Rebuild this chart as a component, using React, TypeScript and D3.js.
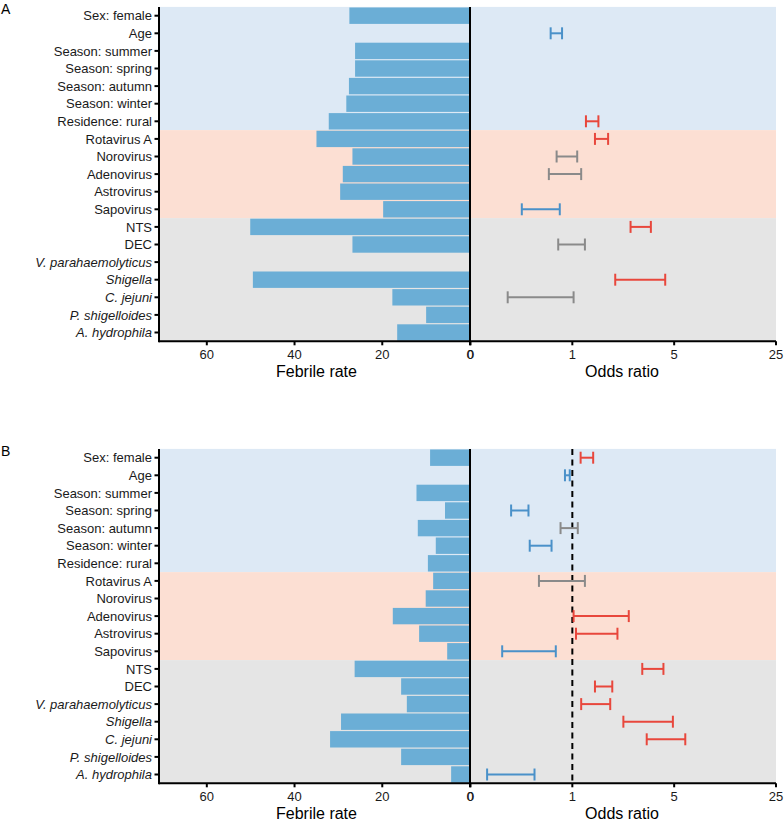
import * as d3 from 'd3'

const rowLabels = [
  'Sex: female', 'Age', 'Season: summer', 'Season: spring', 'Season: autumn',
  'Season: winter', 'Residence: rural', 'Rotavirus A', 'Norovirus', 'Adenovirus',
  'Astrovirus', 'Sapovirus', 'NTS', 'DEC', 'V. parahaemolyticus', 'Shigella',
  'C. jejuni', 'P. shigelloides', 'A. hydrophila',
]
const italicRows = ['V. parahaemolyticus', 'Shigella', 'C. jejuni', 'P. shigelloides', 'A. hydrophila']

// groups of rows for the background bands
const groups = [
  { from: 'Sex: female', to: 'Residence: rural', fill: '#dde9f5' },
  { from: 'Rotavirus A', to: 'Sapovirus', fill: '#fcdfd3' },
  { from: 'NTS', to: 'A. hydrophila', fill: '#e5e5e5' },
]

// panel A
const rateA = [27.5, 0, 26.2, 26.2, 27.6, 28.2, 32.2, 35.0, 26.8, 29.0, 29.6, 19.8, 50.1, 26.8, 0, 49.5, 17.7, 10.0, 16.6]
const orLowA = [null, 0.71, null, null, null, null, 1.24, 1.43, 0.78, 0.69, null, 0.45, 2.51, 0.80, null, 1.97, 0.36, null, null]
const orHighA = [null, 0.85, null, null, null, null, 1.51, 1.76, 1.08, 1.15, null, 0.82, 3.46, 1.22, null, 4.34, 1.02, null, null]
const effectA = [null, 'down', null, null, null, null, 'up', 'up', 'ns', 'ns', null, 'down', 'up', 'ns', null, 'up', 'ns', null, null]

// panel B
const rateB = [9.1, 0, 12.2, 5.7, 11.9, 7.8, 9.6, 8.4, 10.1, 17.6, 11.6, 5.2, 26.3, 15.7, 14.4, 29.4, 31.9, 15.7, 4.3]
const orLowB = [1.14, 0.89, null, 0.38, 0.83, 0.51, null, 0.59, null, 1.02, 1.06, 0.33, 3.02, 1.43, 1.15, 2.24, 3.24, null, 0.26]
const orHighB = [1.39, 0.96, null, 0.50, 1.09, 0.72, null, 1.22, null, 2.44, 2.04, 0.77, 4.22, 1.88, 1.82, 4.9, 5.96, null, 0.55]
const effectB = ['up', 'down', null, 'down', 'ns', 'down', null, 'ns', null, 'up', 'up', 'down', 'up', 'up', 'up', 'up', 'up', null, 'down']

const rateTicks = [60, 40, 20, 0]
const orTicks = [0.2, 1, 5, 25]
const orTickLabels = ['0', '1', '5', '25']

const effectColor: Record<string, string> = { up: '#e8473c', down: '#4a91c9', ns: '#8a8a8a' }
const font = '"Liberation Sans", Arial, Helvetica, sans-serif'

const xLeft = 159
const xMid = 470
const xRight = 776

function Panel({ letter, top, bottom, rates, lows, highs, effects, refLine }: any) {
  const y = d3.scaleBand().domain(rowLabels).range([top, bottom]).padding(0)
  const xRate = d3.scaleLinear().domain([70.9, 0]).range([xLeft, xMid])
  const xOr = d3.scaleLog().base(5).domain([0.2, 25]).range([xMid + 0.5, xRight])
  const bw = y.bandwidth()
  const capH = bw * 0.68

  return (
    <g>
      <text x={1} y={top + 7.5} fontSize={14} fontFamily={font}>{letter}</text>
      {groups.map(g => (
        <rect key={g.from} x={xLeft} width={xRight - xLeft}
          y={y(g.from)!} height={y(g.to)! + bw - y(g.from)!} fill={g.fill} />
      ))}
      {rowLabels.map((r, i) => rates[i] > 0 && (
        <rect key={r} x={xRate(rates[i])} width={xMid - xRate(rates[i])}
          y={y(r)! + 0.6} height={bw - 1.2} fill="#6baed6" />
      ))}
      {refLine && (
        <line x1={xOr(1)} x2={xOr(1)} y1={top} y2={bottom}
          stroke="#000" strokeWidth={2} strokeDasharray="6,4.5" />
      )}
      {rowLabels.map((r, i) => {
        if (lows[i] == null) return null
        const c = effectColor[effects[i]]
        const cy = y(r)! + bw / 2
        const x1 = xOr(lows[i]), x2 = xOr(highs[i])
        return (
          <g key={r} stroke={c} strokeWidth={2}>
            <line x1={x1} x2={x2} y1={cy} y2={cy} />
            <line x1={x1} x2={x1} y1={cy - capH / 2} y2={cy + capH / 2} />
            <line x1={x2} x2={x2} y1={cy - capH / 2} y2={cy + capH / 2} />
          </g>
        )
      })}
      <line x1={xMid} x2={xMid} y1={top} y2={bottom} stroke="#000" strokeWidth={2} />
      <line x1={xLeft} x2={xLeft} y1={top} y2={bottom + 1} stroke="#000" strokeWidth={2} />
      <line x1={xLeft} x2={xRight} y1={bottom} y2={bottom} stroke="#000" strokeWidth={2} />
      {rowLabels.map(r => (
        <g key={r}>
          <line x1={xLeft - 4.5} x2={xLeft} y1={y(r)! + bw / 2} y2={y(r)! + bw / 2} stroke="#000" strokeWidth={2} />
          <text x={xLeft - 7} y={y(r)! + bw / 2 + 4.6} textAnchor="end" fontSize={13} fontFamily={font}
            fontStyle={italicRows.includes(r) ? 'italic' : 'normal'} fill="#1a1a1a">{r}</text>
        </g>
      ))}
      {rateTicks.map(t => (
        <g key={t}>
          <line x1={xRate(t)} x2={xRate(t)} y1={bottom} y2={bottom + 4} stroke="#000" strokeWidth={2} />
          <text x={xRate(t)} y={bottom + 17.5} textAnchor="middle" fontSize={13} fontFamily={font} fill="#1a1a1a">{t}</text>
        </g>
      ))}
      {orTicks.map((t, i) => (
        <g key={t}>
          <line x1={xOr(t)} x2={xOr(t)} y1={bottom} y2={bottom + 4} stroke="#000" strokeWidth={2} />
          <text x={xOr(t)} y={bottom + 17.5} textAnchor="middle" fontSize={13} fontFamily={font} fill="#1a1a1a">{orTickLabels[i]}</text>
        </g>
      ))}
      <text x={(xLeft + xMid) / 2 + 2} y={bottom + 36} textAnchor="middle" fontSize={16} fontFamily={font}>Febrile rate</text>
      <text x={(xMid + xRight) / 2 - 1} y={bottom + 36} textAnchor="middle" fontSize={16} fontFamily={font}>Odds ratio</text>
    </g>
  )
}

export default function App() {
  return (
    <svg width={784} height={825} style={{ position: 'absolute', left: 0, top: 0, background: '#fff' }}>
      <Panel letter="A" top={6.9} bottom={341.3} rates={rateA} lows={orLowA} highs={orHighA} effects={effectA} refLine={false} />
      <Panel letter="B" top={448.9} bottom={783.3} rates={rateB} lows={orLowB} highs={orHighB} effects={effectB} refLine={true} />
    </svg>
  )
}
